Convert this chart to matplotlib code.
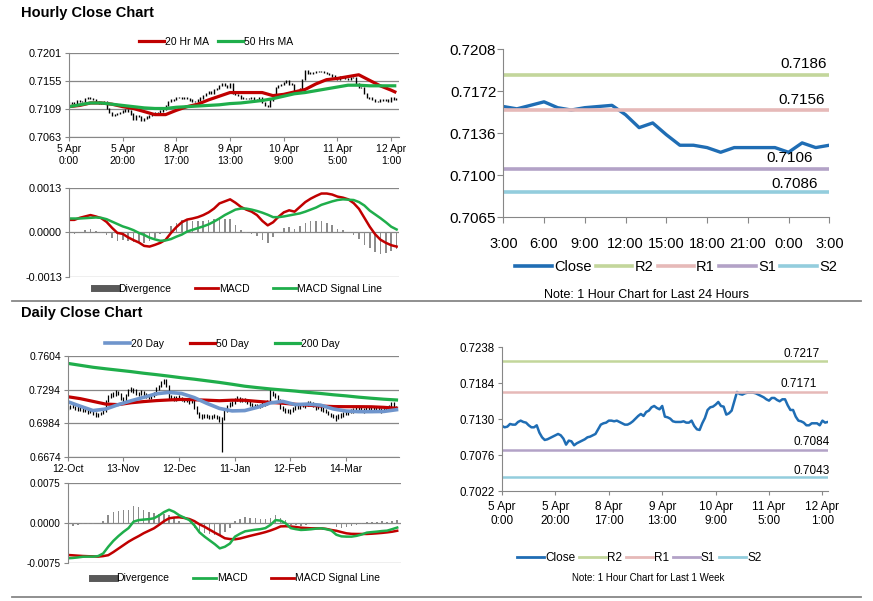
import numpy as np
import matplotlib
matplotlib.use('Agg')
import matplotlib.pyplot as plt
from matplotlib.lines import Line2D

plt.rcParams['font.family'] = ['Liberation Sans', 'DejaVu Sans']

# ---------------- data ----------------
# hourly close, last week (5 Apr 0:00 .. 12 Apr ~2:00)
hourly_close = [0.7120,0.7118,0.7119,0.7123,0.7122,0.7122,0.7126,0.7128,0.7126,0.7125,
                0.7121,0.7118,0.7118,0.7121,0.7110,0.7103,0.7099,0.7100,0.7102,0.7104,
                0.7106,0.7108,0.7106,0.7101,0.7092,0.7098,0.7097,0.7091,0.7094,0.7096,
                0.7098,0.7100,0.7103,0.7104,0.7106,0.7108,0.7115,0.7122,0.7124,0.7125,
                0.7128,0.7128,0.7127,0.7128,0.7126,0.7124,0.7122,0.7122,0.7124,0.7127,
                0.7131,0.7135,0.7138,0.7135,0.7141,0.7143,0.7148,0.7150,0.7147,0.7145,
                0.7150,0.7134,0.7133,0.7131,0.7127,0.7126,0.7126,0.7126,0.7127,0.7125,
                0.7125,0.7128,0.7120,0.7115,0.7114,0.7124,0.7132,0.7144,0.7148,0.7149,
                0.7152,0.7156,0.7150,0.7149,0.7137,0.7139,0.7143,0.7157,0.7171,0.7168,
                0.7167,0.7169,0.7170,0.7170,0.7170,0.7169,0.7167,0.7165,0.7163,0.7160,
                0.7158,0.7162,0.7162,0.7159,0.7157,0.7160,0.7160,0.7151,0.7144,0.7144,
                0.7134,0.7128,0.7127,0.7125,0.7121,0.7121,0.7124,0.7124,0.7124,0.7121,
                0.7128,0.7125,0.7126]
hourly_ticks = ['5 Apr\n0:00', '5 Apr\n20:00', '8 Apr\n17:00', '9 Apr\n13:00',
                '10 Apr\n9:00', '11 Apr\n5:00', '12 Apr\n1:00']
# moving averages sampled every 4 hours (last at hour 122)
hourly_ma_idx = list(range(0, 121, 4)) + [122]
hourly_ma20 = [0.7113,0.7115,0.7119,0.7119,0.7117,0.7113,0.7110,0.7105,0.7100,0.7100,
               0.7107,0.7113,0.7117,0.7124,0.7130,0.7136,0.7136,0.7136,0.7136,0.7131,
               0.7133,0.7137,0.7141,0.7150,0.7157,0.7159,0.7162,0.7165,0.7156,0.7147,
               0.7140,0.7136]
hourly_ma50 = [0.7113,0.7116,0.7119,0.7119,0.7117,0.7115,0.7113,0.7111,0.7110,0.7110,
               0.7112,0.7113,0.7114,0.7115,0.7116,0.7118,0.7119,0.7121,0.7123,0.7126,
               0.7130,0.7134,0.7136,0.7139,0.7142,0.7145,0.7148,0.7148,0.7147,0.7147,
               0.7147,0.7147]
# hourly MACD sampled every 2 hours
hourly_macd_idx = list(range(0, 123, 2))
hourly_macd = [0.00036,0.00036,0.00042,0.00046,0.00050,0.00046,0.00041,0.00030,0.00013,-0.00002,
               -0.00005,-0.00015,-0.00023,-0.00030,-0.00040,-0.00042,-0.00037,-0.00031,-0.00022,-0.00002,
               0.00015,0.00029,0.00037,0.00040,0.00044,0.00050,0.00058,0.00069,0.00084,0.00090,
               0.00096,0.00086,0.00074,0.00066,0.00060,0.00050,0.00033,0.00020,0.00029,0.00045,
               0.00058,0.00064,0.00060,0.00074,0.00088,0.00098,0.00106,0.00113,0.00113,0.00110,
               0.00104,0.00101,0.00096,0.00085,0.00068,0.00042,0.00016,-0.00006,-0.00022,-0.00031,
               -0.00038,-0.00042]
hourly_signal = [0.00040,0.00040,0.00040,0.00041,0.00042,0.00043,0.00042,0.00038,0.00031,0.00024,
                 0.00017,0.00012,0.00006,-0.00002,-0.00008,-0.00016,-0.00021,-0.00025,-0.00024,-0.00020,
                 -0.00013,-0.00007,0.00002,0.00007,0.00012,0.00017,0.00023,0.00031,0.00040,0.00050,
                 0.00058,0.00066,0.00069,0.00069,0.00066,0.00062,0.00057,0.00051,0.00044,0.00044,
                 0.00046,0.00049,0.00052,0.00055,0.00060,0.00066,0.00072,0.00080,0.00085,0.00090,
                 0.00094,0.00096,0.00095,0.00094,0.00088,0.00078,0.00063,0.00052,0.00041,0.00029,
                 0.00016,0.00008]

# last 24 hours
hours_24 = ['3:00','6:00','9:00','12:00','15:00','18:00','21:00','0:00','3:00']
close_24h = [0.7159,0.7157,0.7160,0.7163,0.7158,0.7156,0.7158,0.7159,0.7160,0.7152,
             0.7141,0.7145,0.7135,0.7126,0.7126,0.7124,0.7120,0.7124,0.7124,0.7124,
             0.7124,0.7120,0.7128,0.7124,0.7126]
levels_24h = {'R2': 0.7186, 'R1': 0.7156, 'S1': 0.7106, 'S2': 0.7086}
levels_week = {'R2': 0.7217, 'R1': 0.7171, 'S1': 0.7084, 'S2': 0.7043}

# daily bars 12-Oct .. 12-Apr
daily_ticks = ['12-Oct', '13-Nov', '12-Dec', '11-Jan', '12-Feb', '14-Mar']
daily_close = [0.7125,0.7140,0.7135,0.7120,0.7125, 0.7110,0.7105,0.7100,0.7090,0.7095,
               0.7080,0.7065,0.7060,0.7075,0.7090, 0.7190,0.7225,0.7245,0.7240,0.7275,
               0.7255,0.7215,0.7195,0.7240,0.7285, 0.7300,0.7285,0.7260,0.7255,0.7270,
               0.7250,0.7240,0.7225,0.7235,0.7250, 0.7300,0.7320,0.7360,0.7385,0.7330,
               0.7225,0.7215,0.7200,0.7220,0.7210, 0.7205,0.7195,0.7200,0.7180,0.7190,
               0.7130,0.7080,0.7050,0.7045,0.7055, 0.7050,0.7040,0.7045,0.7050,0.7040,
               0.7020,0.7025,0.7095,0.7140,0.7160, 0.7170,0.7200,0.7210,0.7195,0.7200,
               0.7195,0.7175,0.7160,0.7150,0.7145, 0.7140,0.7145,0.7160,0.7165,0.7180,
               0.7270,0.7250,0.7240,0.7200,0.7130, 0.7115,0.7100,0.7095,0.7090,0.7115,
               0.7135,0.7125,0.7140,0.7150,0.7145, 0.7170,0.7165,0.7150,0.7120,0.7130,
               0.7120,0.7105,0.7095,0.7070,0.7060, 0.7050,0.7040,0.7045,0.7060,0.7070,
               0.7075,0.7085,0.7095,0.7100,0.7110, 0.7125,0.7115,0.7100,0.7110,0.7120,
               0.7105,0.7110,0.7120,0.7105,0.7100, 0.7110,0.7125,0.7140,0.7165,0.7125,0.7128]
daily_high = [0.7145,0.7155,0.7160,0.7140,0.7140, 0.7130,0.7125,0.7120,0.7110,0.7110,
              0.7100,0.7085,0.7080,0.7090,0.7105, 0.7200,0.7240,0.7260,0.7270,0.7290,
              0.7285,0.7260,0.7225,0.7255,0.7300, 0.7320,0.7310,0.7295,0.7275,0.7290,
              0.7280,0.7265,0.7250,0.7255,0.7270, 0.7315,0.7340,0.7375,0.7395,0.7390,
              0.7335,0.7245,0.7230,0.7235,0.7240, 0.7225,0.7220,0.7215,0.7210,0.7205,
              0.7195,0.7140,0.7090,0.7065,0.7070, 0.7070,0.7060,0.7060,0.7065,0.7060,
              0.7050,0.7040,0.7110,0.7155,0.7175, 0.7185,0.7215,0.7230,0.7225,0.7215,
              0.7215,0.7205,0.7185,0.7170,0.7165, 0.7160,0.7165,0.7175,0.7185,0.7200,
              0.7295,0.7280,0.7265,0.7245,0.7205, 0.7140,0.7125,0.7115,0.7110,0.7130,
              0.7150,0.7150,0.7160,0.7170,0.7165, 0.7185,0.7190,0.7175,0.7160,0.7150,
              0.7145,0.7130,0.7115,0.7100,0.7080, 0.7070,0.7060,0.7065,0.7075,0.7085,
              0.7095,0.7100,0.7115,0.7120,0.7130, 0.7145,0.7140,0.7125,0.7130,0.7140,
              0.7130,0.7130,0.7140,0.7130,0.7120, 0.7125,0.7140,0.7155,0.7180,0.7175,0.7140]
daily_low = [0.7105,0.7115,0.7125,0.7105,0.7100, 0.7095,0.7090,0.7085,0.7070,0.7075,
             0.7060,0.7040,0.7045,0.7055,0.7065, 0.7085,0.7180,0.7215,0.7225,0.7230,
             0.7240,0.7200,0.7170,0.7190,0.7235, 0.7270,0.7265,0.7245,0.7235,0.7245,
             0.7235,0.7220,0.7205,0.7210,0.7225, 0.7245,0.7290,0.7315,0.7350,0.7315,
             0.7210,0.7195,0.7185,0.7190,0.7195, 0.7185,0.7175,0.7180,0.7165,0.7170,
             0.7115,0.7065,0.7035,0.7025,0.7035, 0.7030,0.7025,0.7025,0.7030,0.7020,
             0.6990,0.6720,0.7015,0.7085,0.7130, 0.7145,0.7160,0.7185,0.7180,0.7175,
             0.7175,0.7160,0.7145,0.7130,0.7125, 0.7120,0.7125,0.7135,0.7145,0.7155,
             0.7175,0.7235,0.7220,0.7185,0.7115, 0.7095,0.7080,0.7075,0.7070,0.7085,
             0.7105,0.7110,0.7115,0.7130,0.7125, 0.7140,0.7150,0.7130,0.7105,0.7110,
             0.7100,0.7085,0.7075,0.7055,0.7040, 0.7030,0.7005,0.7025,0.7035,0.7045,
             0.7055,0.7060,0.7075,0.7080,0.7090, 0.7100,0.7095,0.7080,0.7090,0.7095,
             0.7085,0.7090,0.7100,0.7090,0.7080, 0.7090,0.7100,0.7115,0.7135,0.7115,0.7115]
# daily moving averages sampled every 5 days
daily_ma_idx = list(range(0, 131, 5))
daily_ma20 = [0.7182,0.7140,0.7100,0.7114,0.7155,0.7190,0.7222,0.7255,0.7268,0.7258,
              0.7220,0.7167,0.7120,0.7097,0.7100,0.7130,0.7170,0.7185,0.7155,0.7160,
              0.7150,0.7115,0.7096,0.7090,0.7090,0.7092,0.7108]
daily_ma50 = [0.7228,0.7210,0.7185,0.7160,0.7155,0.7172,0.7183,0.7192,0.7198,0.7203,
              0.7200,0.7196,0.7191,0.7196,0.7195,0.7185,0.7176,0.7168,0.7158,0.7150,
              0.7142,0.7137,0.7136,0.7136,0.7135,0.7130,0.7122]
daily_ma200 = [0.7536,0.7518,0.7500,0.7486,0.7473,0.7460,0.7445,0.7432,0.7418,0.7403,
               0.7390,0.7375,0.7360,0.7343,0.7325,0.7312,0.7300,0.7290,0.7280,0.7268,
               0.7258,0.7246,0.7236,0.7224,0.7214,0.7205,0.7198]
# daily MACD sampled every 2 days
daily_macd_idx = list(range(0, 131, 2))
daily_macd = [-0.00656,-0.00650,-0.00640,-0.00627,-0.00625,-0.00625,-0.00615,-0.00565,-0.00440,-0.00330,
              -0.00240,-0.00160,-0.00090,0.00031,0.00060,0.00070,0.00078,0.00094,0.00145,0.00210,
              0.00255,0.00215,0.00150,0.00105,0.00060,-0.00040,-0.00170,-0.00250,-0.00320,-0.00390,
              -0.00470,-0.00440,-0.00380,-0.00250,-0.00195,-0.00150,-0.00135,-0.00120,-0.00110,-0.00090,
              -0.00030,0.00060,0.00050,0.00000,-0.00090,-0.00110,-0.00125,-0.00120,-0.00112,-0.00100,
              -0.00094,-0.00110,-0.00135,-0.00215,-0.00245,-0.00250,-0.00250,-0.00235,-0.00210,-0.00175,
              -0.00165,-0.00156,-0.00145,-0.00138,-0.00110,-0.00080]
daily_signal = [-0.00594,-0.00600,-0.00607,-0.00613,-0.00617,-0.00620,-0.00625,-0.00615,-0.00598,-0.00540,
                -0.00475,-0.00410,-0.00345,-0.00290,-0.00240,-0.00185,-0.00140,-0.00095,-0.00030,0.00040,
                0.00094,0.00108,0.00113,0.00100,0.00080,0.00040,-0.00020,-0.00065,-0.00120,-0.00175,
                -0.00225,-0.00280,-0.00295,-0.00300,-0.00285,-0.00260,-0.00235,-0.00212,-0.00190,-0.00165,
                -0.00135,-0.00100,-0.00058,-0.00055,-0.00060,-0.00070,-0.00082,-0.00088,-0.00094,-0.00094,
                -0.00094,-0.00105,-0.00125,-0.00140,-0.00165,-0.00188,-0.00198,-0.00200,-0.00200,-0.00200,
                -0.00195,-0.00188,-0.00180,-0.00170,-0.00158,-0.00140]

# ---------------- style ----------------
GRAY = '#878787'
RED = '#c00000'
GREEN = '#1fae4b'
BLUE20 = '#6f95cc'
CLOSE_BLUE = '#1f6db4'
LEVEL_COL = {'R2': '#c3d69b', 'R1': '#e6b9b8', 'S1': '#b3a2c7', 'S2': '#93cddd'}
DIV_COL = '#8c8c8c'

W, H = 873, 601
fig = plt.figure(figsize=(W / 100, H / 100), dpi=100)


def add_ax(l, t, r, b):
    return fig.add_axes([l / W, 1 - b / H, (r - l) / W, (b - t) / H])


def style(ax, fs, grid=True, bottom=True):
    for s in ['top', 'right']:
        ax.spines[s].set_visible(False)
    ax.spines['left'].set_color(GRAY)
    ax.spines['bottom'].set_color(GRAY)
    ax.spines['bottom'].set_visible(bottom)
    ax.tick_params(direction='out', length=3, width=0.8, color=GRAY, labelsize=fs, pad=2)
    if grid:
        ax.yaxis.grid(True, color=GRAY, lw=0.9)
        ax.set_axisbelow(True)


def fy(y):
    return 1 - y / H


# ---------- Hourly price panel ----------
fig.text(21 / W, fy(13), 'Hourly Close Chart', fontsize=10.5, fontweight='bold', va='center')
axA = add_ax(69, 52.7, 399, 137.3)
style(axA, 7.8)
hx = np.arange(len(hourly_close))
hc = np.array(hourly_close)
ho = np.r_[hc[0], hc[:-1]]
axA.vlines(hx, np.minimum(ho, hc) - 0.0001, np.maximum(ho, hc) + 0.0001, color='black', lw=1.0)
axA.plot(hourly_ma_idx, hourly_ma20, color=RED, lw=2.3, solid_capstyle='butt')
axA.plot(hourly_ma_idx, hourly_ma50, color=GREEN, lw=2.3, solid_capstyle='butt')
axA.set_xlim(0, 123)
axA.set_ylim(0.7063, 0.7201)
axA.set_yticks([0.7063, 0.7109, 0.7155, 0.7201])
axA.set_yticklabels(['0.7063', '0.7109', '0.7155', '0.7201'])
axA.set_xticks(list(range(0, 121, 20)))
axA.set_xticklabels(hourly_ticks, linespacing=1.25)
axA.tick_params(axis='x', labelsize=7.5)

fig.legend([Line2D([], [], color=RED, lw=2.3), Line2D([], [], color=GREEN, lw=2.3)],
           ['20 Hr MA', '50 Hrs MA'], loc='center', bbox_to_anchor=(216 / W, fy(42)),
           ncol=2, frameon=False, fontsize=7.5, handlelength=2.4, handletextpad=0.1,
           columnspacing=0.8)

# ---------- Hourly MACD ----------
axB = add_ax(69, 187.7, 399.3, 276.7)
style(axB, 7.8, bottom=False)
mi = np.array(hourly_macd_idx)
mm = np.array(hourly_macd)
ms = np.array(hourly_signal)
axB.bar(mi, mm - ms, width=0.6, color=DIV_COL, lw=0)
axB.plot(mi, mm, color=RED, lw=1.8)
axB.plot(mi, ms, color=GREEN, lw=1.8)
axB.set_xlim(0, 123)
axB.set_ylim(-0.0013, 0.0013)
axB.set_yticks([-0.0013, 0.0, 0.0013])
axB.set_yticklabels(['-0.0013', '0.0000', '0.0013'])
axB.set_xticks([])
fig.legend([Line2D([], [], color='#595959', lw=5), Line2D([], [], color=RED, lw=2),
            Line2D([], [], color=GREEN, lw=2)],
           ['Divergence', 'MACD', 'MACD Signal Line'], loc='center',
           bbox_to_anchor=(238 / W, fy(288.5)), ncol=3, frameon=False, fontsize=7.5,
           handlelength=2.2, handletextpad=0.1, columnspacing=2.3)

# ---------- 24h chart ----------
axC = add_ax(503.3, 49, 829.3, 217.3)
style(axC, 11, grid=False)
cx = np.arange(len(close_24h))
axC.plot(cx, close_24h, color=CLOSE_BLUE, lw=2.4)
for name, v in levels_24h.items():
    axC.axhline(v, color=LEVEL_COL[name], lw=2.6)
axC.set_xlim(0, len(close_24h) - 1)
c_lo, c_hi = 0.70646, 0.72080
axC.set_ylim(c_lo, c_hi)
axC.set_yticks(np.linspace(c_lo, c_hi, 5))
axC.set_yticklabels(['0.7065', '0.7100', '0.7136', '0.7172', '0.7208'])
axC.set_xticks(list(range(0, 25, 3)))
axC.set_xticklabels(hours_24)
axC.tick_params(axis='x', labelsize=10.5, pad=10, length=4)
axC.tick_params(axis='y', pad=1, length=4)
c_off = {'R2': (-2, 8), 'R1': (-3, 7), 'S1': (-12, 8), 'S2': (-8, 6)}
for name, v in levels_24h.items():
    axC.annotate('%.4f' % v, (len(close_24h) - 1, v), xytext=c_off[name], textcoords='offset points',
                 ha='right', va='center', fontsize=11, annotation_clip=False)
fig.legend([Line2D([], [], color=CLOSE_BLUE, lw=2.6)] +
           [Line2D([], [], color=LEVEL_COL[n], lw=2.6) for n in levels_24h],
           ['Close'] + list(levels_24h), loc='center', bbox_to_anchor=(676 / W, fy(267)),
           ncol=5, frameon=False, fontsize=10.5, handlelength=2.5, handletextpad=0.15,
           columnspacing=0.3)
fig.text(647 / W, fy(295.5), 'Note: 1 Hour Chart for Last 24 Hours', fontsize=9,
         ha='center', va='center')

# ---------- dividers ----------
for yy in (300.5, 597.3):
    fig.add_artist(Line2D([12 / W, 861 / W], [fy(yy), fy(yy)], color=GRAY, lw=1.3))

# ---------- Daily price panel ----------
fig.text(21 / W, fy(313), 'Daily Close Chart', fontsize=10.5, fontweight='bold', va='center')
axD = add_ax(67.7, 356, 399, 456.7)
style(axD, 7.5)
dx = np.arange(len(daily_close))
axD.vlines(dx, daily_low, daily_high, color='black', lw=0.9)
axD.plot(daily_ma_idx, daily_ma50, color=RED, lw=2.3)
axD.plot(daily_ma_idx, daily_ma20, color=BLUE20, lw=2.6)
axD.plot(daily_ma_idx, daily_ma200, color=GREEN, lw=2.3)
axD.set_xlim(0, 131)
axD.set_ylim(0.6674, 0.7604)
axD.set_yticks([0.6674, 0.6984, 0.7294, 0.7604])
axD.set_yticklabels(['0.6674', '0.6984', '0.7294', '0.7604'])
axD.set_xticks(list(range(0, 111, 22)))
axD.set_xticklabels(daily_ticks)
fig.legend([Line2D([], [], color=BLUE20, lw=2.6), Line2D([], [], color=RED, lw=2.3),
            Line2D([], [], color=GREEN, lw=2.3)],
           ['20 Day', '50 Day', '200 Day'], loc='center', bbox_to_anchor=(222 / W, fy(344)),
           ncol=3, frameon=False, fontsize=7.5, handlelength=2.4, handletextpad=0.1,
           columnspacing=2.5)

# ---------- Daily MACD ----------
axE = add_ax(67.7, 483.3, 401, 563.3)
style(axE, 7.2, bottom=False)
di = np.array(daily_macd_idx)
dm = np.array(daily_macd)
ds = np.array(daily_signal)
axE.bar(di, dm - ds, width=0.6, color=DIV_COL, lw=0)
axE.plot(di, ds, color=RED, lw=1.8)
axE.plot(di, dm, color=GREEN, lw=1.8)
axE.set_xlim(0, 131.5)
axE.set_ylim(-0.0075, 0.0075)
axE.set_yticks([-0.0075, 0.0, 0.0075])
axE.set_yticklabels(['-0.0075', '0.0000', '0.0075'])
axE.set_xticks([])
fig.legend([Line2D([], [], color='#595959', lw=5), Line2D([], [], color=GREEN, lw=2),
            Line2D([], [], color=RED, lw=2)],
           ['Divergence', 'MACD', 'MACD Signal Line'], loc='center',
           bbox_to_anchor=(236 / W, fy(578.3)), ncol=3, frameon=False, fontsize=7.5,
           handlelength=2.2, handletextpad=0.1, columnspacing=2.3)

# ---------- Weekly hourly chart ----------
axF = add_ax(502, 347.3, 828.3, 491.3)
style(axF, 8.3, grid=False)
axF.plot(hx, hourly_close, color=CLOSE_BLUE, lw=1.8)
for name, v in levels_week.items():
    axF.axhline(v, color=LEVEL_COL[name], lw=1.8)
axF.set_xlim(0, 122.2)
axF.set_ylim(0.7022, 0.7238)
axF.set_yticks([0.7022, 0.7076, 0.7130, 0.7184, 0.7238])
axF.set_yticklabels(['0.7022', '0.7076', '0.7130', '0.7184', '0.7238'])
axF.set_xticks(list(range(0, 121, 20)))
axF.set_xticklabels(hourly_ticks, linespacing=1.2)
axF.tick_params(axis='x', labelsize=8.5, pad=4)
f_off = {'R2': (-6, 5.5), 'R1': (-8, 5.5), 'S1': (1, 5.5), 'S2': (1, 4.5)}
for name, v in levels_week.items():
    axF.annotate('%.4f' % v, (122.2, v), xytext=f_off[name], textcoords='offset points',
                 ha='right', va='center', fontsize=8.5, annotation_clip=False)
fig.legend([Line2D([], [], color=CLOSE_BLUE, lw=2)] +
           [Line2D([], [], color=LEVEL_COL[n], lw=2) for n in levels_week],
           ['Close'] + list(levels_week), loc='center', bbox_to_anchor=(639 / W, fy(557.7)),
           ncol=5, frameon=False, fontsize=8.5, handlelength=2.3, handletextpad=0.1,
           columnspacing=0.3)
fig.text(648 / W, fy(578.3), 'Note: 1 Hour Chart for Last 1 Week', fontsize=7,
         ha='center', va='center')

fig.savefig('out.png', dpi=100)
